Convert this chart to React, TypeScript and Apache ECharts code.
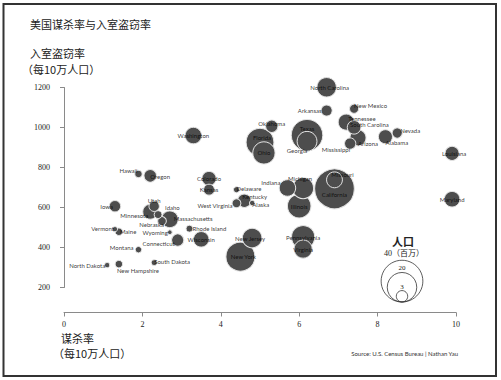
import React, { useEffect, useRef } from "react";
import * as echarts from "echarts";

const states = ["Alabama","Alaska","Arizona","Arkansas","California","Colorado","Connecticut","Delaware","Florida","Georgia","Hawaii","Idaho","Illinois","Indiana","Iowa","Kansas","Kentucky","Louisiana","Maine","Maryland","Massachusetts","Michigan","Minnesota","Mississippi","Missouri","Montana","Nebraska","Nevada","New Hampshire","New Jersey","New Mexico","New York","North Carolina","North Dakota","Ohio","Oklahoma","Oregon","Pennsylvania","Rhode Island","South Carolina","South Dakota","Tennessee","Texas","Utah","Vermont","Virginia","Washington","West Virginia","Wisconsin","Wyoming"];
const murder = [8.2,4.8,7.5,6.7,6.9,3.7,2.9,4.4,5.0,6.2,1.9,2.4,6.0,5.7,1.3,3.7,4.6,9.9,1.4,9.9,2.7,6.1,2.2,7.3,6.9,1.9,2.5,8.5,1.4,4.8,7.4,4.5,6.7,1.1,5.1,5.3,2.2,6.1,3.2,7.4,2.3,7.2,6.2,2.3,1.3,6.1,3.3,4.4,3.5,2.7];
const burglary = [953.8,622.5,948.4,1084.6,693.3,744.8,437.1,688.9,926.3,931.0,767.9,564.4,606.9,697.6,606.4,689.2,634.0,870.6,478.8,641.4,541.1,696.8,578.9,919.7,738.3,389.2,532.4,972.4,317.0,447.1,1093.9,353.9,1201.1,311.9,872.8,1006.0,758.6,451.6,494.2,1000.9,324.4,1026.9,961.6,606.2,491.8,392.1,959.7,621.2,440.8,476.3];
const population = [4.55,0.66,5.94,2.78,36.13,4.67,3.51,0.84,17.79,9.07,1.28,1.43,12.76,6.27,2.97,2.75,4.17,4.52,1.32,5.60,6.40,10.12,5.13,2.92,5.80,0.94,1.76,2.41,1.31,8.72,1.93,19.25,8.68,0.64,11.46,3.55,3.64,12.43,1.08,4.26,0.78,5.96,22.86,2.47,0.62,7.57,6.29,1.82,5.54,0.51];
const xTicks = [0, 2, 4, 6, 8, 10];
const yTicks = [200, 400, 600, 800, 1000, 1200];
const legendPops = [40, 20, 3];

// label placement: [align, dx, dy]
const labelPlace: Record<string, [string, number, number]> = {
  Hawaii: ["right", -1, -3], Oregon: ["left", 0, 1], Iowa: ["right", -2, 0], Utah: ["center", 0, -6],
  Idaho: ["left", 7, -7], Minnesota: ["right", -2, 4], Massachusetts: ["left", 4, -1], Nebraska: ["right", 2, 3],
  Vermont: ["right", -1, -1], Maine: ["left", 1, 0], Wyoming: ["right", -2, 0], "Rhode Island": ["left", 3, 0],
  Connecticut: ["right", -3, 3], Montana: ["right", -5, -2], "North Dakota": ["right", -2, 0],
  "New Hampshire": ["left", -2, 6], "South Dakota": ["left", 0, -1], "West Virginia": ["right", -4, 2],
  Delaware: ["left", 0, -1], Kentucky: ["left", -2, -4], Alaska: ["left", 0, 1], Indiana: ["right", -7, -5],
  Michigan: ["center", -3, -10], California: ["center", 0, 6], Missouri: ["center", 8, -5],
  "New Jersey": ["center", -2, 0], "New York": ["center", 3, 0], "North Carolina": ["center", 3, 0],
  Arkansas: ["right", -5, 0], "New Mexico": ["left", 0, -3], Tennessee: ["left", 2, -4],
  "South Carolina": ["left", -4, -3], Arizona: ["left", 0, 6], Mississippi: ["right", 0, 6],
  Alabama: ["left", 0, 6], Nevada: ["left", 3, -3], Louisiana: ["center", 2, 0], Oklahoma: ["center", 0, -3],
  Florida: ["center", 2, -5], Texas: ["center", 0, -7], Georgia: ["center", -10, 9],
};

const K = 6.6;
const diam = (p: number) => K * Math.sqrt(p);

export default function App() {
  const ref = useRef<HTMLDivElement>(null);
  useEffect(() => {
    if (!ref.current) return;
    const chart = echarts.init(ref.current, null, { renderer: "svg" });
    const order = states.map((_, i) => i).sort((a, b) => population[b] - population[a]);
    const bubbleData = order.map((i) => ({ name: states[i], value: [murder[i], burglary[i], population[i]] }));
    const labelData = order.map((i) => {
      const p = labelPlace[states[i]] || ["center", 0, 0];
      return {
        name: states[i],
        value: [murder[i], burglary[i], population[i]],
        label: { align: p[0], offset: [p[1], p[2]] },
      };
    });
    const serif = "'Liberation Serif', 'Noto Sans CJK SC', serif";
    const cjk = "'Noto Sans CJK SC', sans-serif";
    const legendCx = 402, legendBottom = 302;
    const legendGraphics: any[] = [];
    legendPops.forEach((p) => {
      const r = diam(p) / 2;
      legendGraphics.push({
        type: "circle", silent: true,
        shape: { cx: legendCx, cy: legendBottom - r, r },
        style: { fill: "none", stroke: "#333", lineWidth: 0.8 },
      });
    });
    const r20 = diam(20) / 2, r3 = diam(3) / 2;
    chart.setOption({
      animation: false,
      grid: { left: 64, right: 45, top: 87.5, bottom: 92.5, containLabel: false },
      xAxis: {
        type: "value", min: 0, max: 10, interval: 2, offset: 25,
        axisLine: { show: true, lineStyle: { color: "#8a8a8a", width: 1 } },
        axisTick: { show: true, length: 4, lineStyle: { color: "#8a8a8a" } },
        axisLabel: { fontFamily: serif, fontSize: 8, color: "#222", margin: 8,
          formatter: (v: number) => (xTicks.includes(v) ? String(v) : "") },
        splitLine: { show: false },
      },
      yAxis: {
        type: "value", min: 200, max: 1200, interval: 200, offset: 7,
        axisLine: { show: true, lineStyle: { color: "#8a8a8a", width: 1 } },
        axisTick: { show: true, length: 4, lineStyle: { color: "#8a8a8a" } },
        axisLabel: { fontFamily: serif, fontSize: 8, color: "#222", margin: 7,
          formatter: (v: number) => (yTicks.includes(v) ? String(v) : "") },
        splitLine: { show: false },
      },
      series: [
        {
          type: "scatter", z: 2, silent: true, clip: false,
          data: bubbleData,
          symbolSize: (v: number[]) => diam(v[2]),
          itemStyle: { color: "#4d4d4d", borderColor: "#e4e4e4", borderWidth: 1, opacity: 1 },
          emphasis: { disabled: true },
        },
        {
          type: "scatter", z: 5, silent: true, clip: false,
          data: labelData,
          symbolSize: 1,
          itemStyle: { color: "rgba(0,0,0,0)" },
          label: {
            show: true, position: "inside", formatter: "{b}",
            fontFamily: "Lato, 'Open Sans', sans-serif", fontSize: 6, color: "#000",
          },
          emphasis: { disabled: true },
        },
      ],
      graphic: [
        { type: "rect", silent: true, shape: { x: 3.5, y: 4, width: 492.5, height: 372 },
          style: { fill: "none", stroke: "#333", lineWidth: 2 } },
        { type: "text", x: 30, y: 24, style: { text: "美国谋杀率与入室盗窃率", font: `11px ${cjk}`, fill: "#222", textVerticalAlign: "middle" } },
        { type: "text", x: 30, y: 53, style: { text: "入室盗窃率", font: `11px ${cjk}`, fill: "#222", textVerticalAlign: "middle" } },
        { type: "text", x: 22, y: 69, style: { text: "（每10万人口）", font: `11px ${cjk}`, fill: "#222", textVerticalAlign: "middle" } },
        { type: "text", x: 61, y: 338, style: { text: "谋杀率", font: `11px ${cjk}`, fill: "#222", textVerticalAlign: "middle" } },
        { type: "text", x: 53, y: 353, style: { text: "（每10万人口）", font: `11px ${cjk}`, fill: "#222", textVerticalAlign: "middle" } },
        { type: "text", x: 458, y: 353, style: { text: "Source: U.S. Census Bureau | Nathan Yau", font: "6px Lato, sans-serif", fill: "#333", textAlign: "right", textVerticalAlign: "middle" } },
        { type: "text", x: 403, y: 241, style: { text: "人口", font: `bold 11px ${cjk}`, fill: "#222", textAlign: "center", textVerticalAlign: "middle" } },
        { type: "text", x: 404, y: 253, style: { text: "40（百万）", font: `8px ${serif}`, fill: "#222", textAlign: "center", textVerticalAlign: "middle" } },
        { type: "text", x: legendCx, y: legendBottom - 2 * r20 - 4, style: { text: "20", font: `7px ${serif}`, fill: "#222", textAlign: "center", textVerticalAlign: "middle" } },
        { type: "text", x: legendCx, y: legendBottom - 2 * r3 - 4, style: { text: "3", font: `7px ${serif}`, fill: "#222", textAlign: "center", textVerticalAlign: "middle" } },
        ...legendGraphics,
      ],
    });
    return () => chart.dispose();
  }, []);
  return <div ref={ref} style={{ position: "fixed", left: 0, top: 0, width: 501, height: 380, background: "#fff" }} />;
}
